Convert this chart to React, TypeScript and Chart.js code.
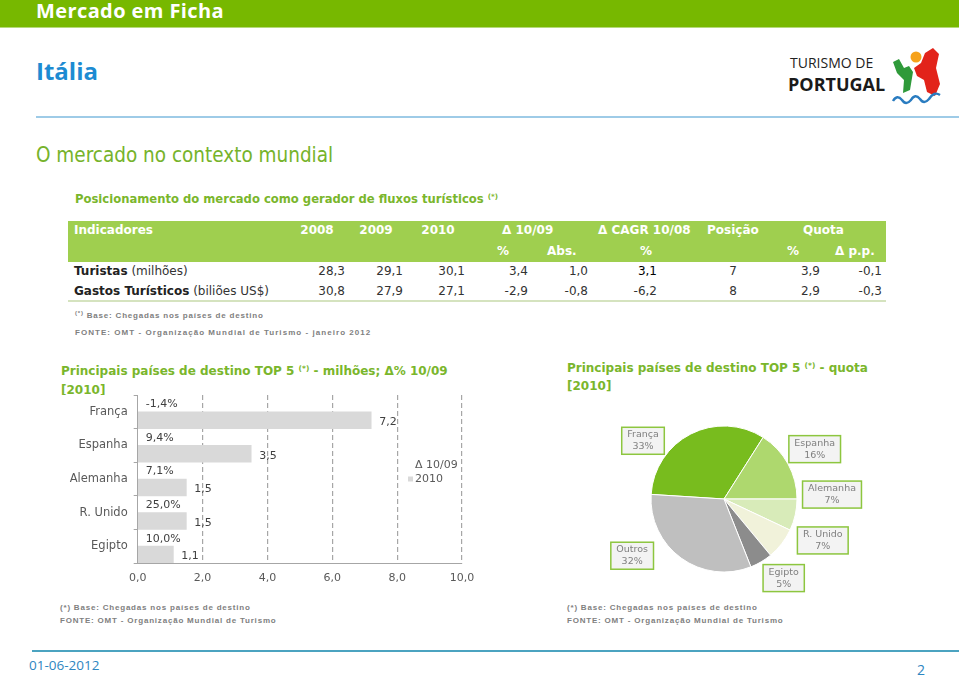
import React, { useEffect, useRef } from 'react';
import { Chart, registerables } from 'chart.js';

Chart.register(...registerables);

// ---------- data ----------
const COUNTRIES = ['França', 'Espanha', 'Alemanha', 'R. Unido', 'Egipto'];
const ARRIVALS_2010 = [7.2, 3.5, 1.5, 1.5, 1.1];
const DELTA_10_09 = [-1.4, 9.4, 7.1, 25.0, 10.0];
const X_MIN = 0;
const X_MAX = 10;
const X_STEP = 2;

const PIE_LABELS = ['França', 'Espanha', 'Alemanha', 'R. Unido', 'Egipto', 'Outros'];
const PIE_SHARES = [33, 16, 7, 7, 5, 32];
const PIE_COLORS = ['#78bc1e', '#aed86e', '#d8ebb9', '#f1f2da', '#8c8c8c', '#bfbfbf'];

const TABLE_HEAD_1 = ['2008', '2009', '2010'];
const ROW_NAMES = [['Turistas', ' (milhões)'], ['Gastos Turísticos', ' (biliões US$)']];
const ROW_TURISTAS = ['28,3', '29,1', '30,1', '3,4', '1,0', '3,1', '7', '3,9', '-0,1'];
const ROW_GASTOS = ['30,8', '27,9', '27,1', '-2,9', '-0,8', '-6,2', '8', '2,9', '-0,3'];

const fmt1 = (v: number) => v.toFixed(1).replace('.', ',');

const FONT = '"DejaVu Sans", Verdana, sans-serif';
const GREEN_TXT = '#7ab62c';

// ---------- helpers ----------
type TP = { x: number; y: number; a?: 'left' | 'right' | 'center'; s?: React.CSSProperties; children: React.ReactNode };
const T = ({ x, y, a = 'left', s, children }: TP) => (
  <div
    style={{
      position: 'absolute',
      left: x,
      top: y,
      transform: `translate(${a === 'left' ? '0' : a === 'right' ? '-100%' : '-50%'}, -50%)`,
      whiteSpace: 'nowrap',
      lineHeight: 1,
      ...s,
    }}
  >
    {children}
  </div>
);

const Sup = () => <sup style={{ fontSize: '0.62em', verticalAlign: '0.55em', lineHeight: 0 }}>(*)</sup>;

// ---------- bar chart ----------
const barLabelPlugin = {
  id: 'barLabelPlugin',
  afterDatasetsDraw(chart: any) {
    const ctx = chart.ctx;
    const xs = chart.scales.x;
    const x0 = xs.getPixelForValue(0);
    const m0 = chart.getDatasetMeta(0);
    const m1 = chart.getDatasetMeta(1);
    ctx.save();
    ctx.font = `11px ${FONT}`;
    ctx.textBaseline = 'middle';
    ctx.textAlign = 'left';
    ctx.fillStyle = '#404040';
    m0.data.forEach((el: any, i: number) => {
      ctx.fillText(fmt1(chart.data.datasets[0].data[i]) + '%', x0 + 8, el.y + 1);
    });
    m1.data.forEach((el: any, i: number) => {
      ctx.fillText(fmt1(chart.data.datasets[1].data[i]), el.x + 8, el.y + 2);
    });
    // legend
    const { right, top, bottom } = chart.chartArea;
    const mid = (top + bottom) / 2;
    ctx.fillStyle = '#595959';
    ctx.fillText(chart.data.datasets[0].label, right - 47, mid - 14);
    ctx.fillText(chart.data.datasets[1].label, right - 47, mid);
    ctx.fillStyle = chart.data.datasets[1].backgroundColor;
    ctx.fillRect(right - 54, mid - 2.5, 5, 5);
    ctx.restore();
  },
};

function BarChart() {
  const ref = useRef<HTMLCanvasElement>(null);
  useEffect(() => {
    const chart = new Chart(ref.current!, {
      type: 'bar',
      data: {
        labels: COUNTRIES,
        datasets: [
          { label: 'Δ 10/09', data: DELTA_10_09, backgroundColor: 'rgba(0,0,0,0)' },
          { label: '2010', data: ARRIVALS_2010, backgroundColor: '#d9d9d9' },
        ],
      },
      options: {
        indexAxis: 'y',
        animation: false,
        responsive: false,
        maintainAspectRatio: false,
        datasets: { bar: { categoryPercentage: 1, barPercentage: 1 } },
        layout: { padding: { left: 0, right: 28, top: 0, bottom: 0 } },
        plugins: { legend: { display: false }, tooltip: { enabled: false } },
        scales: {
          x: {
            min: X_MIN,
            max: X_MAX,
            ticks: {
              stepSize: X_STEP,
              padding: 9,
              color: '#595959',
              font: { family: FONT, size: 11 },
              callback: (v: any) => fmt1(Number(v)),
            },
            grid: {
              drawTicks: false,
              color: (c: any) => (c.index === 0 ? 'rgba(0,0,0,0)' : '#a6a6a6'),
              lineWidth: 1.2,
            },
            border: { display: true, color: '#a6a6a6', width: 1, dash: [5, 3] },
            afterFit: (s: any) => { s.height = 32; s.paddingTop = 0; s.paddingBottom = 0; },
          },
          y: {
            ticks: { padding: 6, color: '#595959', font: { family: FONT, size: 11.5 } },
            grid: { drawOnChartArea: false, drawTicks: true, tickLength: 4, color: '#a6a6a6', offset: true },
            border: { display: true, color: '#a6a6a6', width: 1 },
            afterFit: (s: any) => { s.width = 82.7; s.paddingTop = 0; s.paddingBottom = 0; },
          },
        },
      } as any,
      plugins: [barLabelPlugin],
    });
    return () => chart.destroy();
  }, []);
  return <canvas ref={ref} width={435} height={200} style={{ position: 'absolute', left: 55, top: 395, width: 435, height: 200 }} />;
}

// ---------- pie chart ----------
const PIE_NUDGE = [[-34, 34], [0, 0], [7, -27], [17, -22], [7, -10], [-31, -27]];

const pieLabelPlugin = {
  id: 'pieLabelPlugin',
  afterDatasetsDraw(chart: any) {
    const ctx = chart.ctx;
    const meta = chart.getDatasetMeta(0);
    ctx.save();
    ctx.font = `9.5px ${FONT}`;
    ctx.textBaseline = 'middle';
    ctx.textAlign = 'center';
    meta.data.forEach((arc: any, i: number) => {
      const mid = (arc.startAngle + arc.endAngle) / 2;
      const d = arc.outerRadius + 30.5;
      const cx = arc.x + Math.cos(mid) * d + PIE_NUDGE[i][0];
      const cy = arc.y + Math.sin(mid) * d + PIE_NUDGE[i][1];
      const l1 = chart.data.labels[i];
      const l2 = chart.data.datasets[0].data[i] + '%';
      const w = Math.max(ctx.measureText(l1).width, ctx.measureText(l2).width) + 11;
      const h = 27;
      ctx.fillStyle = '#f3f3f3';
      ctx.fillRect(cx - w / 2, cy - h / 2, w, h);
      ctx.strokeStyle = '#8dc63f';
      ctx.lineWidth = 1.5;
      ctx.strokeRect(cx - w / 2, cy - h / 2, w, h);
      ctx.fillStyle = '#7f7f7f';
      ctx.fillText(l1, cx, cy - 6);
      ctx.fillText(l2, cx, cy + 6);
    });
    ctx.restore();
  },
};

function PieChart() {
  const ref = useRef<HTMLCanvasElement>(null);
  useEffect(() => {
    const chart = new Chart(ref.current!, {
      type: 'pie',
      data: {
        labels: PIE_LABELS,
        datasets: [{ data: PIE_SHARES, backgroundColor: PIE_COLORS, borderColor: '#ffffff', borderWidth: 1 }],
      },
      options: {
        animation: false,
        responsive: false,
        maintainAspectRatio: false,
        rotation: -86.4,
        layout: { padding: { left: 90.5, right: 102.5, top: 25.5, bottom: 27.5 } },
        plugins: { legend: { display: false }, tooltip: { enabled: false } },
      } as any,
      plugins: [pieLabelPlugin],
    });
    return () => chart.destroy();
  }, []);
  return <canvas ref={ref} width={340} height={200} style={{ position: 'absolute', left: 560, top: 400, width: 340, height: 200 }} />;
}

// ---------- logo ----------
function Logo() {
  return (
    <>
      <T x={790} y={63} s={{ fontFamily: '"Open Sans", sans-serif', fontSize: 14, color: '#222' }}>TURISMO DE</T>
      <T x={788} y={84} s={{ fontFamily: '"Open Sans", sans-serif', fontSize: 18, fontWeight: 700, color: '#1a1a1a' }}>PORTUGAL</T>
      <svg width={959} height={676} style={{ position: 'absolute', left: 0, top: 0, pointerEvents: 'none' }}>
        <polygon points="893,62 899,59 904,68 909,66 913,72 910,90 903,93 904,80 897,73" fill="#2f9a3a" />
        <polygon points="914,68 921,63 925,53 933,48 939,54 936,68 940,84 935,96 927,92 924,80 917,76" fill="#e2231a" />
        <circle cx={916} cy={57} r={5.5} fill="#f6a21a" />
        <path d="M893,101 q4,-7 9,-1 q4,6 9,0 q4,-7 9,-1 q4,6 9,0 q5,-8 11,-4" stroke="#2a7cc0" strokeWidth={2.4} fill="none" />
      </svg>
    </>
  );
}

// ---------- table ----------
function Table() {
  const H: React.CSSProperties = { fontFamily: FONT, fontSize: 12, fontWeight: 700, color: '#ffffff' };
  const R: React.CSSProperties = { fontFamily: FONT, fontSize: 12, color: '#333333' };
  const valX = [345, 403, 465, 528, 588, 657, 733, 820, 882];
  const valA: ('right' | 'center')[] = ['right', 'right', 'right', 'right', 'right', 'right', 'center', 'right', 'right'];
  const headX = [317, 376, 438];
  return (
    <>
      <div style={{ position: 'absolute', left: 68, top: 221, width: 818, height: 41, background: '#9fcf4f' }} />
      <div style={{ position: 'absolute', left: 68, top: 300, width: 818, height: 1.5, background: '#d5e3bf' }} />
      <T x={74} y={230} s={H}>Indicadores</T>
      {TABLE_HEAD_1.map((h, i) => (
        <T key={h} x={headX[i]} y={230} a="center" s={H}>{h}</T>
      ))}
      <T x={502} y={230} s={H}>Δ 10/09</T>
      <T x={598} y={230} s={H}>Δ CAGR 10/08</T>
      <T x={707} y={230} s={H}>Posição</T>
      <T x={803} y={230} s={H}>Quota</T>
      <T x={497} y={251} s={H}>%</T>
      <T x={547} y={251} s={H}>Abs.</T>
      <T x={640} y={251} s={H}>%</T>
      <T x={787} y={251} s={H}>%</T>
      <T x={835} y={251} s={H}>Δ p.p.</T>
      {[ROW_TURISTAS, ROW_GASTOS].map((row, r) => (
        <React.Fragment key={r}>
          <T x={74} y={r === 0 ? 271 : 291} s={R}>
            <b style={{ color: '#222' }}>{ROW_NAMES[r][0]}</b>
            {ROW_NAMES[r][1]}
          </T>
          {row.map((v, i) => (
            <T key={i} x={valX[i]} y={r === 0 ? 271 : 291} a={valA[i]} s={{ ...R, color: r === 0 && i === 5 ? '#000' : '#333' }}>
              {v}
            </T>
          ))}
        </React.Fragment>
      ))}
    </>
  );
}

const FN: React.CSSProperties = {
  fontFamily: '"Liberation Sans", Arial, sans-serif',
  fontSize: 8,
  fontWeight: 700,
  letterSpacing: 0.8,
  color: '#808080',
};

export default function App() {
  useEffect(() => {
    document.body.style.margin = '0';
  }, []);
  const TITLE: React.CSSProperties = { fontFamily: FONT, fontSize: 12, fontWeight: 700, color: GREEN_TXT };
  return (
    <div style={{ position: 'relative', width: 959, height: 676, background: '#fff', overflow: 'hidden' }}>
      {/* header */}
      <div style={{ position: 'absolute', left: 0, top: 0, width: 959, height: 27, background: '#77b800', borderBottom: '1px solid #b5d97a' }} />
      <T x={36} y={11} s={{ fontFamily: '"Open Sans", sans-serif', fontSize: 20, fontWeight: 700, letterSpacing: 0.4, color: '#fff' }}>Mercado em Ficha</T>
      <T x={36} y={71} s={{ fontFamily: '"Open Sans", sans-serif', fontSize: 24, fontWeight: 700, color: '#1d8bd2' }}>Itália</T>
      <Logo />
      <div style={{ position: 'absolute', left: 36, top: 116, width: 923, height: 2, background: '#9ecbe7' }} />

      <T x={36} y={155} s={{ fontFamily: '"DejaVu Sans Condensed", sans-serif', fontSize: 20.5, color: '#76b32b' }}>O mercado no contexto mundial</T>
      <T x={75} y={200} s={{ fontFamily: FONT, fontSize: 11.6, fontWeight: 700, color: GREEN_TXT }}>
        Posicionamento do mercado como gerador de fluxos turísticos <Sup />
      </T>

      <Table />

      <T x={75} y={315} s={FN}>
        <span style={{ fontSize: 6, verticalAlign: '0.4em' }}>(*)</span> Base: Chegadas nos países de destino
      </T>
      <T x={75} y={333} s={{ ...FN, letterSpacing: 1.05 }}>FONTE: OMT - Organização Mundial de Turismo - janeiro 2012</T>

      {/* bar chart */}
      <T x={61} y={371} s={TITLE}>
        Principais países de destino TOP 5 <Sup /> - milhões; Δ% 10/09
      </T>
      <div style={{ position: 'absolute', left: 61, top: 381, height: 14, overflow: 'hidden' }}>
        <div style={{ ...TITLE, lineHeight: '18px' }}>[2010]</div>
      </div>
      <BarChart />

      {/* pie chart */}
      <T x={567} y={368} s={TITLE}>
        Principais países de destino TOP 5 <Sup /> - quota
      </T>
      <T x={567} y={386} s={TITLE}>[2010]</T>
      <PieChart />

      <T x={60} y={608} s={FN}>(*) Base: Chegadas nos países de destino</T>
      <T x={60} y={621} s={FN}>FONTE: OMT - Organização Mundial de Turismo</T>
      <T x={567} y={608} s={FN}>(*) Base: Chegadas nos países de destino</T>
      <T x={567} y={621} s={FN}>FONTE: OMT - Organização Mundial de Turismo</T>

      {/* footer */}
      <div style={{ position: 'absolute', left: 32, top: 650, width: 927, height: 2, background: '#4ba3c0' }} />
      <T x={29} y={666} s={{ fontFamily: '"Open Sans", sans-serif', fontSize: 13.5, color: '#2e86c1' }}>01-06-2012</T>
      <T x={921} y={670} a="center" s={{ fontFamily: '"Open Sans", sans-serif', fontSize: 14, color: '#2e86c1' }}>2</T>
    </div>
  );
}
